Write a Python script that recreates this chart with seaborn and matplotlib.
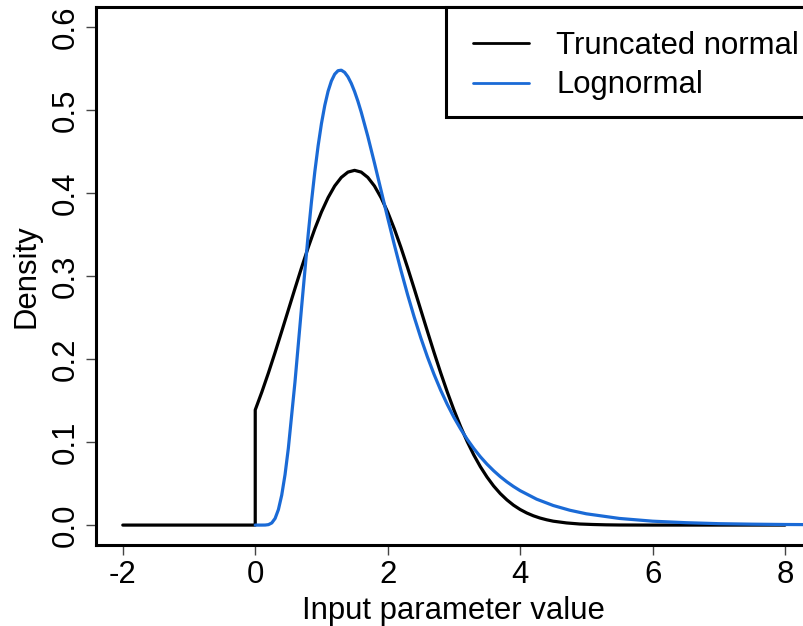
import numpy as np
import pandas as pd
import matplotlib
matplotlib.use("Agg")
import matplotlib.pyplot as plt
from matplotlib.patches import Rectangle
import seaborn as sns

# ---- data ----
tn_x = [-2.0, 0.0, 0.0, 0.1, 0.2, 0.3, 0.4, 0.5, 0.6, 0.7, 0.8, 0.9,
        1.0, 1.1, 1.2, 1.3, 1.4, 1.5, 1.6, 1.7, 1.8, 1.9,
        2.0, 2.1, 2.2, 2.3, 2.4, 2.5, 2.6, 2.7, 2.8, 2.9,
        3.0, 3.1, 3.2, 3.3, 3.4, 3.5, 3.6, 3.7, 3.8, 3.9,
        4.0, 4.1, 4.2, 4.3, 4.4, 4.5, 4.7, 4.9, 5.1, 5.3, 5.5, 6.0, 7.0, 8.0]
tn_y = [0.0, 0.0, 0.1388, 0.1604, 0.1836, 0.2081, 0.2335, 0.2593, 0.2851, 0.3104, 0.3346, 0.3571,
        0.3773, 0.3946, 0.4087, 0.4190, 0.4254, 0.4275, 0.4254, 0.4190, 0.4087, 0.3946,
        0.3773, 0.3571, 0.3346, 0.3104, 0.2851, 0.2593, 0.2335, 0.2081, 0.1836, 0.1604,
        0.1388, 0.1189, 0.1008, 0.0846, 0.0703, 0.0579, 0.0471, 0.0380, 0.0304, 0.0240,
        0.0188, 0.0146, 0.0112, 0.0085, 0.0064, 0.0047, 0.0026, 0.0013, 0.0007, 0.0003, 0.0001, 0.0, 0.0, 0.0]

ln_x = [0.0, 0.1, 0.15, 0.2, 0.25, 0.3, 0.35, 0.4, 0.45, 0.5, 0.6, 0.7, 0.8, 0.85, 0.9, 0.95,
        1.0, 1.05, 1.1, 1.15, 1.2, 1.25, 1.3, 1.35, 1.4, 1.45, 1.5, 1.55, 1.6, 1.7, 1.8, 1.9,
        2.0, 2.1, 2.2, 2.3, 2.4, 2.5, 2.6, 2.7, 2.8, 2.9,
        3.0, 3.1, 3.2, 3.3, 3.4, 3.5, 3.6, 3.7, 3.8, 3.9,
        4.0, 4.25, 4.5, 4.75, 5.0, 5.5, 6.0, 6.5, 7.0, 7.5, 8.0, 9.0, 10.0]
ln_y = [0.0, 0.0, 0.00005, 0.00055, 0.0026, 0.0080, 0.0187, 0.0361, 0.0608, 0.0926, 0.1723, 0.2627,
        0.3505, 0.3902, 0.4260, 0.4573,
        0.4839, 0.5057, 0.5228, 0.5352, 0.5434, 0.5476, 0.5482, 0.5456, 0.5402, 0.5324, 0.5225, 0.5109,
        0.4978, 0.4685, 0.4365, 0.4034,
        0.3703, 0.3380, 0.3071, 0.2779, 0.2508, 0.2257, 0.2027, 0.1817, 0.1626, 0.1454,
        0.1299, 0.1160, 0.1035, 0.0923, 0.0823, 0.0734, 0.0655, 0.0584, 0.0521, 0.0465,
        0.0415, 0.0312, 0.0236, 0.0179, 0.0136, 0.0080, 0.0047, 0.0029, 0.0017, 0.0011, 0.0007, 0.0003, 0.0001]

series_names = ["Truncated normal", "Lognormal"]
x_ticks = [-2, 0, 2, 4, 6, 8]
y_ticks = [0.0, 0.1, 0.2, 0.3, 0.4, 0.5, 0.6]
y_tick_labels = ["0.0", "0.1", "0.2", "0.3", "0.4", "0.5", "0.6"]
x_label = "Input parameter value"
y_label = "Density"

colors = {"Truncated normal": "#000000", "Lognormal": "#1a6ad6"}

sns.set_style("ticks")
plt.rcParams['font.family'] = ['Liberation Sans', 'DejaVu Sans']
plt.rcParams['text.color'] = 'black'
plt.rcParams['axes.labelcolor'] = 'black'

FS = 22.4
fig = plt.figure(figsize=(8.04, 6.26), dpi=100)
ax = fig.add_axes([96.3 / 804, 81 / 626, (811.5 - 96.3) / 804, (545 - 7.3) / 626])

df_tn = pd.DataFrame({"x": tn_x, "y": tn_y})
df_ln = pd.DataFrame({"x": ln_x, "y": ln_y})

sns.lineplot(data=df_tn, x="x", y="y", estimator=None, sort=False,
             color=colors["Truncated normal"], lw=2.3, ax=ax, label=series_names[0])
sns.lineplot(data=df_ln, x="x", y="y", estimator=None, sort=False,
             color=colors["Lognormal"], lw=2.3, ax=ax, label=series_names[1])

ax.set_xlim(-2.4, 8.4)
ax.set_ylim(-0.024, 0.624)
ax.set_xticks(x_ticks)
ax.set_xticklabels([str(t) for t in x_ticks])
ax.set_yticks(y_ticks)
ax.set_yticklabels(y_tick_labels, rotation=90, va="center")

for s in ax.spines.values():
    s.set_linewidth(2.2)
    s.set_color("black")
    s.set_visible(True)

ax.tick_params(axis="both", length=7, width=1.0, color="#444444", labelsize=FS, labelcolor="black")
ax.tick_params(axis="x", pad=4)
ax.tick_params(axis="y", pad=4)

ax.set_xlabel(x_label, fontsize=FS, labelpad=4, color="black")
ax.set_ylabel(y_label, fontsize=FS, labelpad=7, color="black")

# legend box anchored at top-right corner of the axes
lx0 = (445.7 - 96.3) / 715.2
ly0 = (545 - 117.3) / 537.7
ax.add_patch(Rectangle((lx0, ly0), 1 - lx0, 1 - ly0, transform=ax.transAxes,
                       facecolor="white", edgecolor="black", lw=2.2, zorder=5, clip_on=False))
leg = ax.legend(loc="center left", bbox_to_anchor=((473 - 96.3) / 715.2, (545 - 65.5) / 537.7),
                frameon=False, fontsize=FS, handlelength=1.8, handletextpad=0.88,
                labelspacing=0.32, borderpad=0, borderaxespad=0)
leg.set_zorder(6)
for txt in leg.get_texts():
    txt.set_color("black")
for line in leg.get_lines():
    line.set_linewidth(2.0)

fig.savefig("out.png", dpi=100)
